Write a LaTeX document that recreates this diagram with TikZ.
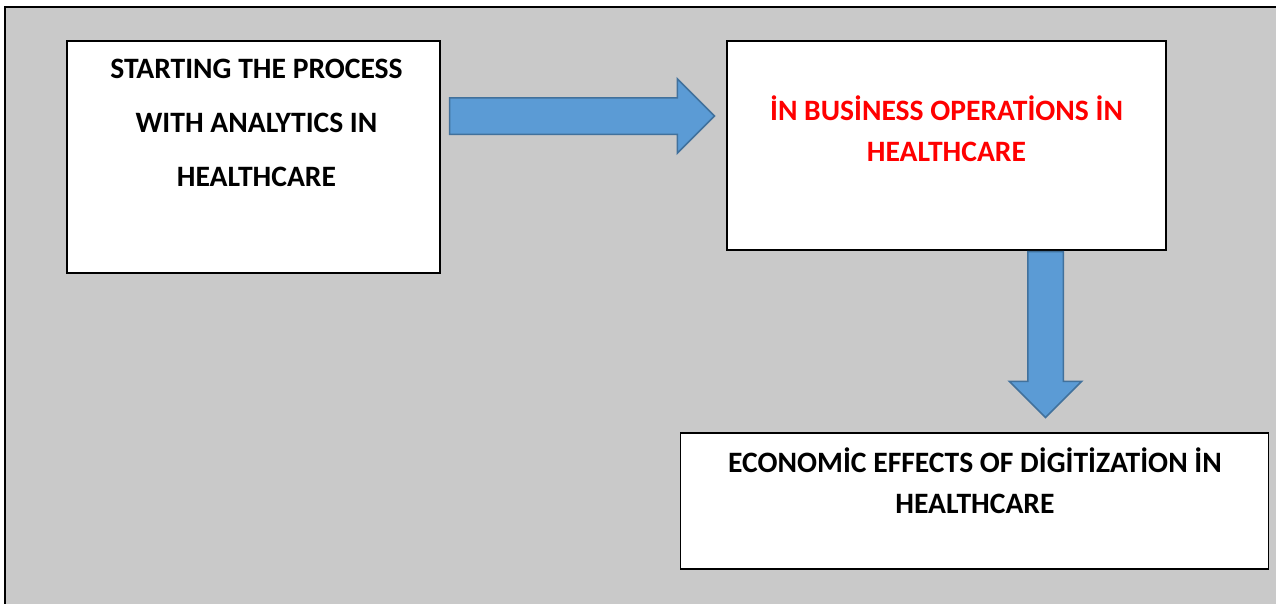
\documentclass[tikz,border=0pt]{standalone}
\usepackage{fontspec}
\setmainfont{Carlito}
\usetikzlibrary{shapes.arrows, calc, positioning}

\definecolor{panelgray}{RGB}{201,201,201}
\definecolor{arrowblue}{RGB}{91,155,213}
\definecolor{arrowedge}{RGB}{65,113,156}

\begin{document}
\begin{tikzpicture}[
        x=1pt, y=-1pt,
        box/.style={draw=black, line width=1.5pt, fill=white, inner sep=0pt},
        boxtext/.style={align=center, inner sep=0pt, anchor=base,
                        font=\bfseries\fontsize{29.6}{41}\selectfont},
        blockarrow/.style={single arrow, draw=arrowedge, fill=arrowblue,
                           line width=1.5pt, inner xsep=0pt, anchor=tail}
    ]
        \useasboundingbox (0,0) rectangle (1276,603);
        \draw[line width=2pt, fill=panelgray] (5,7) rectangle (1300,630);

        \node[box, minimum width=373pt, minimum height=232pt] (start) at (253.5,157) {};
        \node[box, minimum width=439pt, minimum height=209pt] (ops) at (946.5,145.5) {};
        \node[box, minimum width=588pt, minimum height=136pt] (econ) at (974.5,501) {};

        % texts, placed by the baseline of their last line
        \node[boxtext, font=\bfseries\fontsize{29.6}{54}\selectfont] (start-txt)
            at ($(start.north)+(3,146)$) {STARTING THE PROCESS\\WITH ANALYTICS IN\\HEALTHCARE};
        \node[boxtext, text=red] (ops-txt)
            at ($(ops.north)+(0,121)$) {İN BUSİNESS OPERATİONS İN\\HEALTHCARE};
        \node[boxtext] (econ-txt)
            at ($(econ.north)+(0.5,81)$) {ECONOMİC EFFECTS OF DİGİTİZATİON İN\\HEALTHCARE};

        \node[blockarrow, inner ysep=17.5pt, single arrow head extend=19pt,
              minimum height=265pt] (start-ops) at ($(start.east)+(8,-41)$) {};
        \node[blockarrow, inner ysep=17pt, single arrow head extend=18.5pt,
              minimum height=166pt, rotate=-90] (ops-econ) at (ops.south -| 1045.5,0) {};
    \end{tikzpicture}
\end{document}
